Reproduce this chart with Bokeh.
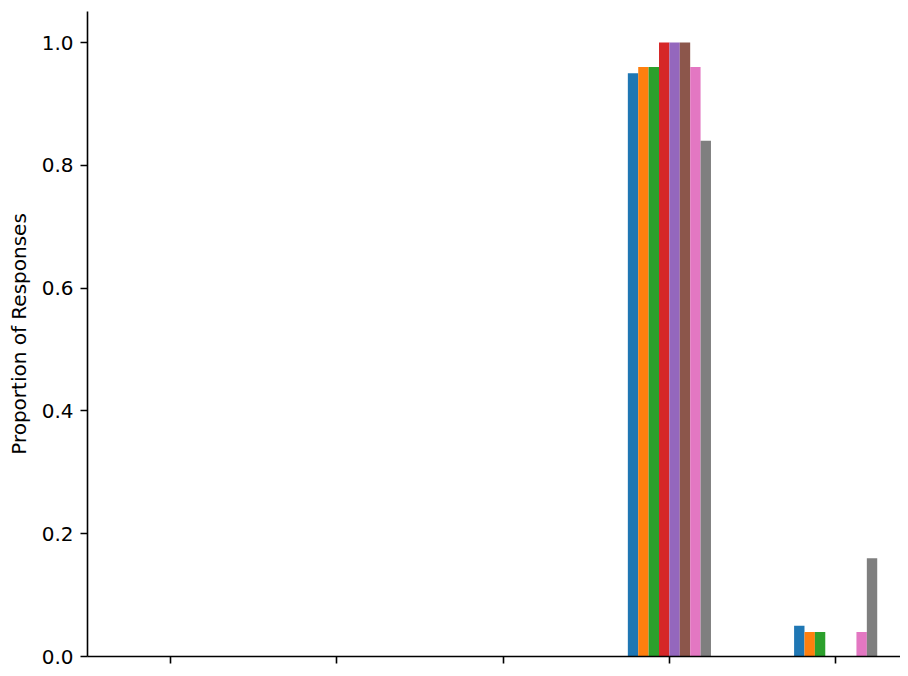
from bokeh.plotting import figure
from bokeh.models import ColumnDataSource, Range1d, FixedTicker, PrintfTickFormatter
from bokeh.transform import dodge
from bokeh.embed import file_html
from bokeh.resources import INLINE

# Data
categories = [0, 1, 2, 3, 4]
s1 = [0.0, 0.0, 0.0, 0.95, 0.05]
s2 = [0.0, 0.0, 0.0, 0.96, 0.04]
s3 = [0.0, 0.0, 0.0, 0.96, 0.04]
s4 = [0.0, 0.0, 0.0, 1.00, 0.00]
s5 = [0.0, 0.0, 0.0, 1.00, 0.00]
s6 = [0.0, 0.0, 0.0, 1.00, 0.00]
s7 = [0.0, 0.0, 0.0, 0.96, 0.04]
s8 = [0.0, 0.0, 0.0, 0.84, 0.16]
series = [s1, s2, s3, s4, s5, s6, s7, s8]
colors = ["#1f77b4", "#ff7f0e", "#2ca02c", "#d62728",
          "#9467bd", "#8c564b", "#e377c2", "#7f7f7f"]
y_ticks = [0.0, 0.2, 0.4, 0.6, 0.8, 1.0]

data = {"x": categories}
for i, s in enumerate(series):
    data[f"s{i}"] = s
source = ColumnDataSource(data)

p = figure(width=900, height=668, output_backend="svg", toolbar_location=None,
           x_range=Range1d(-0.5, 4.39), y_range=Range1d(0, 1.0505),
           min_border_left=87, min_border_right=0, min_border_top=11, min_border_bottom=12)

n = len(series)
bw = 0.5 / n
for i in range(n):
    p.vbar(x=dodge("x", (i - (n - 1) / 2) * bw), top=f"s{i}", width=bw,
           source=source, fill_color=colors[i], line_color=None)

p.outline_line_color = None
p.xgrid.visible = False
p.ygrid.visible = False
p.background_fill_color = "white"
p.border_fill_color = "white"

for ax in (p.xaxis[0], p.yaxis[0]):
    ax.axis_line_width = 1.6
    ax.axis_line_color = "black"
    ax.major_tick_line_width = 1.6
    ax.major_tick_line_color = "black"
    ax.major_tick_out = 7
    ax.major_tick_in = 0
    ax.minor_tick_line_color = None
    ax.major_label_text_font = "DejaVu Sans"
    ax.major_label_text_font_size = "20px"
    ax.major_label_text_color = "black"
    ax.major_label_standoff = 7

p.xaxis.ticker = FixedTicker(ticks=categories)
p.xaxis.major_label_overrides = {c: "" for c in categories}
p.xaxis.major_label_standoff = 0

p.yaxis.ticker = FixedTicker(ticks=y_ticks)
p.yaxis.formatter = PrintfTickFormatter(format="%.1f")
p.yaxis.axis_label = "Proportion of Responses"
p.yaxis.axis_label_text_font = "DejaVu Sans"
p.yaxis.axis_label_text_font_size = "20px"
p.yaxis.axis_label_text_font_style = "normal"
p.yaxis.axis_label_text_color = "black"
p.yaxis.axis_label_standoff = 8

open("out.html", "w").write(file_html(p, INLINE))
